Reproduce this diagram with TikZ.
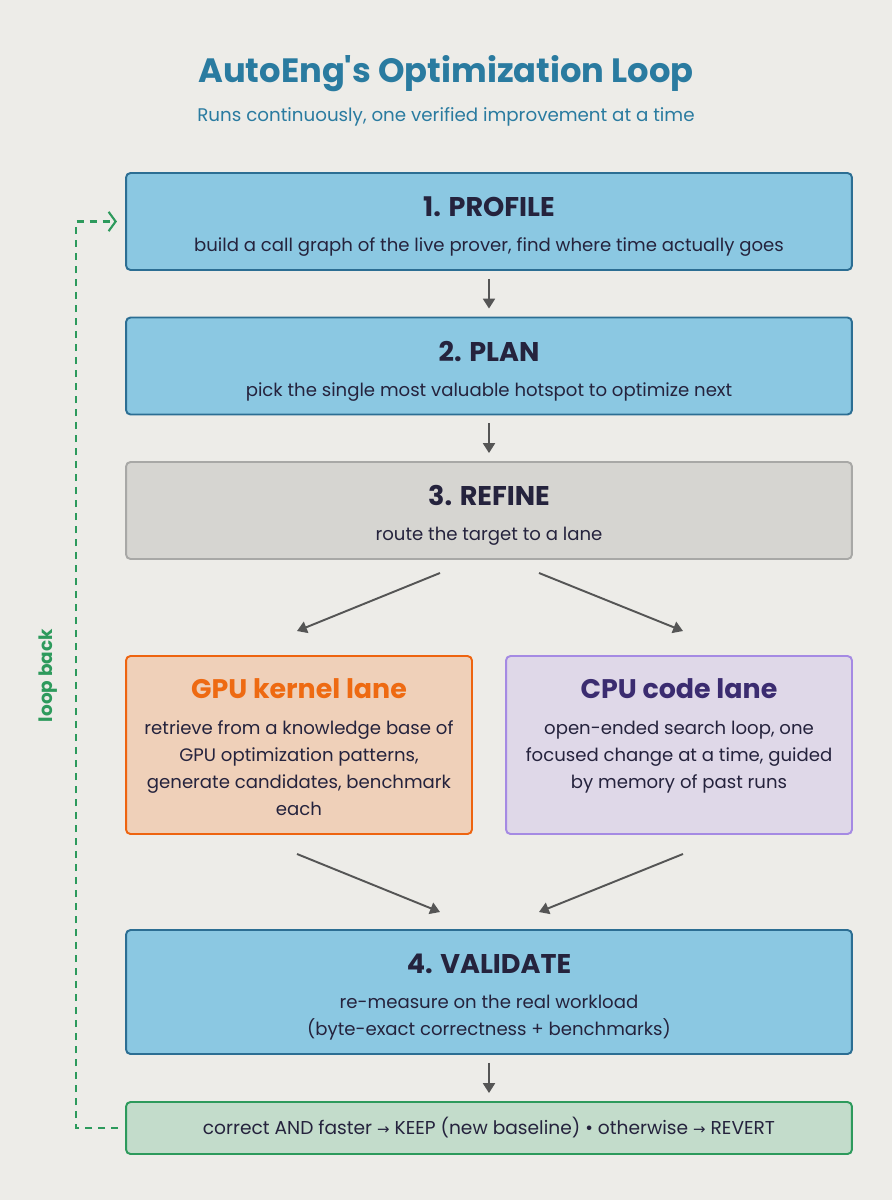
\documentclass[tikz,border=0pt]{standalone}
\usepackage{fontspec}
\setmainfont{Poppins}
\newfontfamily\symfont{DejaVu Sans}
\usepackage{xcolor}
\usetikzlibrary{arrows.meta,calc}

\definecolor{bgc}{HTML}{EDECE8}
\definecolor{titleblue}{HTML}{2A7BA0}
\definecolor{ink}{HTML}{25233D}
\definecolor{bluefill}{HTML}{8BC8E2}
\definecolor{blueline}{HTML}{2C6E93}
\definecolor{grayfill}{HTML}{D6D5D1}
\definecolor{grayline}{HTML}{A8A8A6}
\definecolor{gpufill}{HTML}{EFD0B9}
\definecolor{gpuline}{HTML}{EE6410}
\definecolor{gpuhead}{HTML}{EE6A12}
\definecolor{cpufill}{HTML}{DFD8E8}
\definecolor{cpuline}{HTML}{A58AE3}
\definecolor{cpuhead}{HTML}{3B2C70}
\definecolor{keepfill}{HTML}{C3DCCB}
\definecolor{keepline}{HTML}{2D9A5C}
\definecolor{arrgray}{HTML}{555555}

\newcommand{\ar}{{\symfont\fontsize{8.5}{9}\selectfont →}}

\begin{document}
\begin{tikzpicture}[x=0.02cm, y=-0.02cm,
  box/.style args={#1 on #2}{draw=#1, fill=#2, rounded corners=2.5pt, line width=1.1pt,
    inner sep=0pt, outer sep=0pt, minimum width=14.52cm},
  head/.style={font=\fontsize{15.4}{19}\selectfont\bfseries, text=ink, anchor=base, inner sep=0pt},
  body/.style={font=\fontsize{10.3}{15.3}\selectfont, text=ink, anchor=base, align=center, inner sep=0pt},
  arr/.style={-{Triangle[length=5.6pt,width=6.8pt]}, line width=1.1pt, draw=arrgray},
  loop/.style={dash pattern=on 4pt off 3.4pt, line width=1.2pt, draw=keepline}]
  \fill[bgc] (0,0) rectangle (892,1200);
  \useasboundingbox (0,0) rectangle (892,1200);

  % title
  \node[font=\fontsize{19.2}{23}\selectfont\bfseries, text=titleblue, anchor=base] (title) at (446,82.7) {AutoEng\textquotesingle s Optimization Loop};
  \node[font=\fontsize{10.4}{13}\selectfont, text=titleblue, anchor=base] (subtitle) at (446,121.7) {Runs continuously, one verified improvement at a time};

  % main steps
  \node[box=blueline on bluefill, minimum height=1.94cm] (profile) at (489,221.5) {};
  \node[head] (profileH) at (489,216) {1. PROFILE};
  \node[body] (profileB) at (489,251.5) {build a call graph of the live prover, find where time actually goes};

  \node[box=blueline on bluefill, minimum height=1.94cm] (plan) at (489,366) {};
  \node[head] (planH) at (489,361) {2. PLAN};
  \node[body] (planB) at (489,396.5) {pick the single most valuable hotspot to optimize next};

  \node[box=grayline on grayfill, minimum height=1.94cm] (refine) at (489,510.5) {};
  \node[head] (refineH) at (489,505) {3. REFINE};
  \node[body] (refineB) at (489,540.5) {route the target to a lane};

  % lanes (base = last line)
  \node[box=gpuline on gpufill, minimum width=6.92cm, minimum height=3.56cm] (gpu) at (299,745) {};
  \node[head, text=gpuhead, font=\fontsize{15.3}{18}\selectfont\bfseries] (gpuH) at (299,698) {GPU kernel lane};
  \node[body] (gpuB) at (299,815) {retrieve from a knowledge base of\\GPU optimization patterns,\\generate candidates, benchmark\\each};

  \node[box=cpuline on cpufill, minimum width=6.92cm, minimum height=3.56cm] (cpu) at (679,745) {};
  \node[head, text=cpuhead, font=\fontsize{15.3}{18}\selectfont\bfseries] (cpuH) at (679,698) {CPU code lane};
  \node[body] (cpuB) at (679,788) {open-ended search loop, one\\focused change at a time, guided\\by memory of past runs};

  \node[box=blueline on bluefill, minimum height=2.48cm] (validate) at (489,992) {};
  \node[head] (validateH) at (489,973) {4. VALIDATE};
  \node[body] (validateB) at (489,1035.5) {re-measure on the real workload\\(byte-exact correctness + benchmarks)};

  \node[box=keepline on keepfill, minimum height=1.04cm] (keep) at (489,1128) {};
  \node[body, font=\fontsize{10.6}{13}\selectfont] (keepB) at (489,1134) {correct AND faster \ar{} KEEP (new baseline) \textbullet{} otherwise \ar{} REVERT};

  % flow
  \draw[arr, shorten <=5.1pt, shorten >=5.1pt] (profile.south) -- (plan.north);
  \draw[arr, shorten <=5.1pt, shorten >=5.1pt] (plan.south) -- (refine.north);
  \draw[arr] ($(refine.south)+(-49,14)$) -- ($(gpu.north)+(-2,-25)$);
  \draw[arr] ($(refine.south)+(50,14)$) -- ($(cpu.north)+(4,-25)$);
  \draw[arr] ($(gpu.south)+(-2,20)$) -- ($(validate.north)+(-49,-18)$);
  \draw[arr] ($(cpu.south)+(4,20)$) -- ($(validate.north)+(50,-18)$);
  \draw[arr, shorten <=5.1pt, shorten >=5.1pt] (validate.south) -- (keep.north);

  % loop back
  \draw[loop, -{Straight Barb[length=4pt,width=11pt]}, shorten <=4.5pt, shorten >=5.2pt]
    (keep.west) -- ++(-50,0) |- (profile.west);
  \node[font=\fontsize{10.5}{12}\selectfont\bfseries, text=keepline, rotate=90, anchor=base] (loopL) at (52,675.5) {loop back};
\end{tikzpicture}
\end{document}
